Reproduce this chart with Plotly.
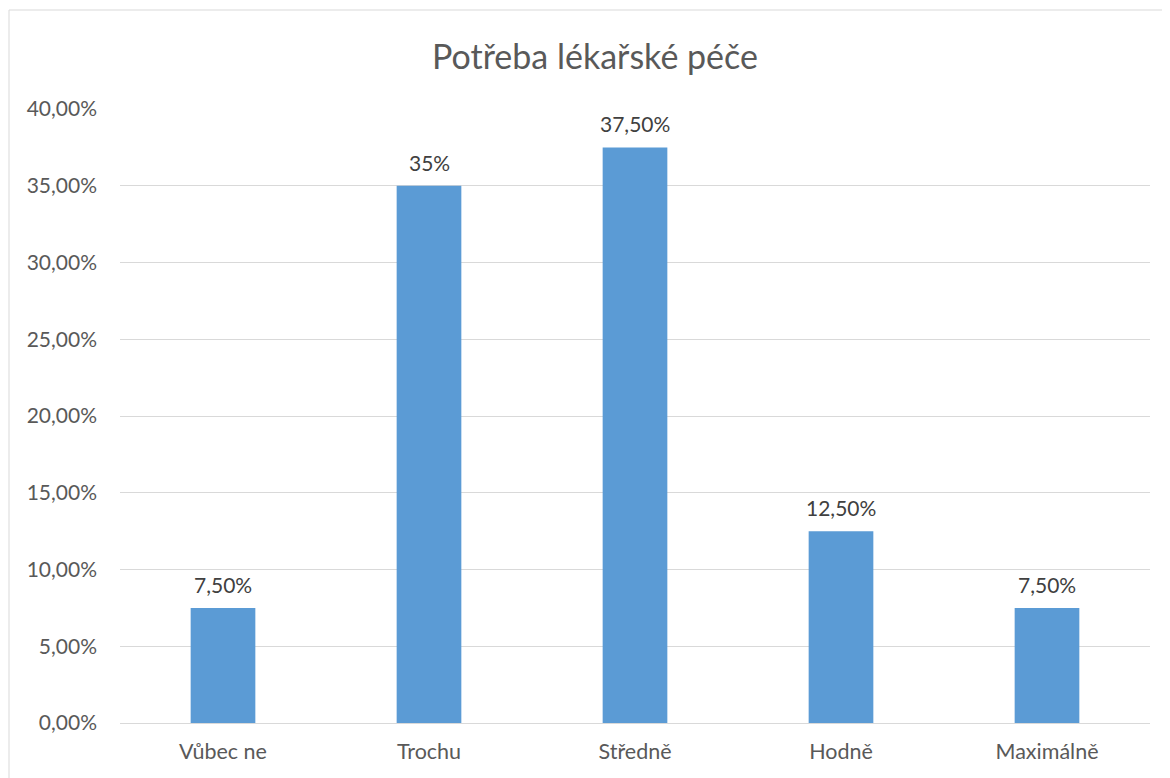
import plotly.graph_objects as go

categories = ["Vůbec ne", "Trochu", "Středně", "Hodně", "Maximálně"]
values = [0.075, 0.35, 0.375, 0.125, 0.075]
value_labels = ["7,50%", "35%", "37,50%", "12,50%", "7,50%"]
tick_values = [0, 0.05, 0.10, 0.15, 0.20, 0.25, 0.30, 0.35, 0.40]

FONT = "Lato"
GREY = "#595959"

# page body has an 8px margin, so the figure is placed at (8, 8)
OFF = 8
W, H = 1170 - OFF, 778 - OFF
L, R, T, B = 120 - OFF, 20, 109 - OFF, 55
pw, ph = W - L - R, H - T - B

fig = go.Figure()
fig.add_trace(go.Bar(
    x=categories, y=values,
    marker=dict(color="#5B9BD5", line=dict(width=0)),
    hoverinfo="skip",
))

for c, v, t in zip(categories, values, value_labels):
    fig.add_annotation(x=c, y=v, text=t, showarrow=False, yanchor="bottom",
                       yshift=9, font=dict(family=FONT, size=21, color="#404040"))

fig.add_shape(type="rect", xref="paper", yref="paper",
              x0=(9 - OFF - L) / pw, x1=(W + 20 - L) / pw,
              y0=-(H + 20 - (H - B)) / ph, y1=1 + (T - (10 - OFF)) / ph,
              line=dict(color="#D9D9D9", width=1), fillcolor="rgba(0,0,0,0)", layer="below")

fig.update_layout(
    width=W, height=H,
    margin=dict(l=L, r=R, t=T, b=B),
    paper_bgcolor="white", plot_bgcolor="white",
    separators=",.",
    bargap=0.686,
    showlegend=False,
    title=dict(text="Potřeba lékařské péče", x=(595 - OFF) / W, xanchor="center",
               y=1 - (57 - OFF) / H, yanchor="middle",
               font=dict(family=FONT, size=34, color=GREY)),
    font=dict(family=FONT, color=GREY),
)
fig.update_xaxes(showgrid=False, showline=False, zeroline=False,
                 ticks="outside", ticklen=9, tickcolor="rgba(0,0,0,0)",
                 tickfont=dict(family=FONT, size=21.5, color=GREY))
fig.update_yaxes(range=[0, 0.4], tickvals=tick_values, tickformat=".2%",
                 showgrid=True, gridcolor="#D9D9D9", gridwidth=1,
                 zeroline=True, zerolinecolor="#D9D9D9", zerolinewidth=1,
                 showline=False, ticks="", ticklabelstandoff=22,
                 tickfont=dict(family=FONT, size=21, color=GREY))

fig.write_html("out.html")
